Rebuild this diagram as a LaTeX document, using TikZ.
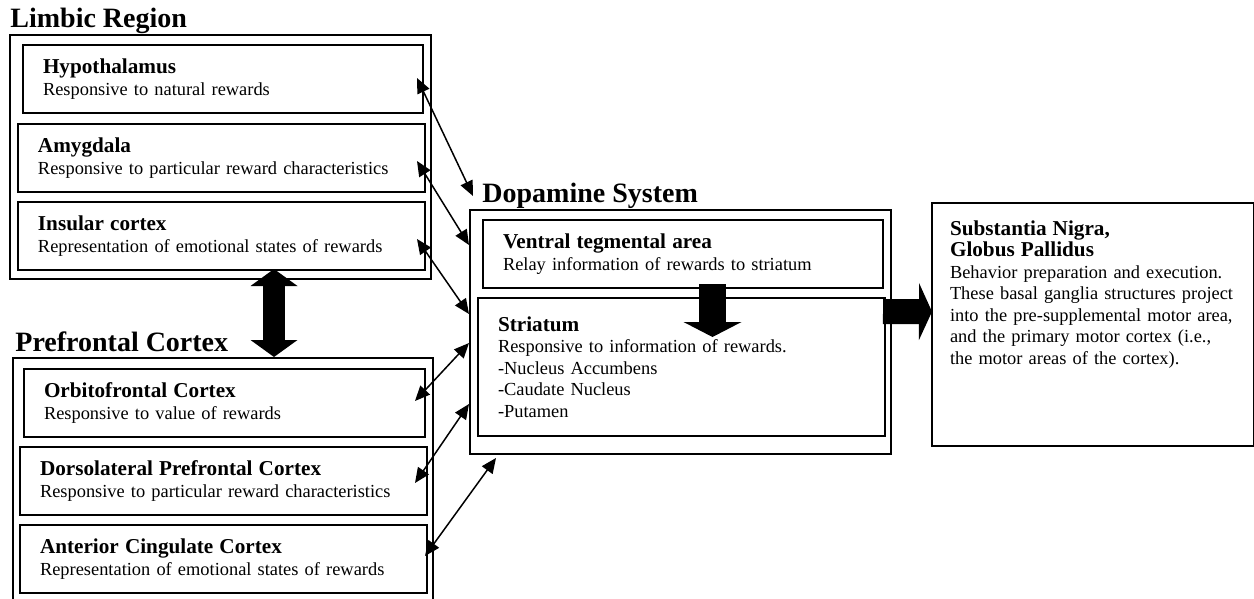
\documentclass[tikz,border=0pt]{standalone}
\usepackage{fontspec}
\setmainfont{Liberation Serif}
\usetikzlibrary{arrows.meta, positioning, calc}

\newcommand{\headfont}{\fontsize{10.6}{11}\selectfont\bfseries}
\newcommand{\titlefont}{\fontsize{14}{16}\selectfont\bfseries}

\begin{document}
\begin{tikzpicture}[
        x=0.5pt, y=-0.5pt,
        font=\fontsize{9.2}{10.75}\selectfont,
        group/.style={draw, line width=1pt, anchor=north west, inner sep=0pt},
        region/.style={draw, line width=1pt, anchor=north west, minimum width=#1, minimum height=34pt, text width=#1-20pt, align=left, inner xsep=10pt},
        heading/.style={anchor=base west, inner sep=0pt, font=\titlefont},
        link/.style={<->, >={Triangle[length=7.5pt, width=6.5pt]}, line width=0.75pt},
        bigarr/.style={line width=#1}
    ]
        \useasboundingbox (0,0) rectangle (1254,599);

        % outer groups
        \node[group, minimum width=210.5pt, minimum height=122pt] (limbic) at (9,34) {};
        \node[group, minimum width=210pt, minimum height=126.5pt] (pfc) at (12,357) {};
        \node[group, minimum width=210.5pt, minimum height=122pt] (dsys) at (469,209) {};

        \node[heading] (limbictitle) at (10,28) {Limbic Region};
        \node[heading] (pfctitle) at (15,351) {Prefrontal Cortex};
        \node[heading] (dsystitle) at (482,203) {Dopamine System};

        % limbic region
        \node[region=200pt] (hypo) at (22,44) {{\headfont Hypothalamus}\\Responsive to natural rewards};
        \node[region=203.5pt] (amyg) at (17,123) {{\headfont Amygdala}\\Responsive to particular reward characteristics};
        \node[region=203.5pt] (insula) at (17,201) {{\headfont Insular cortex}\\Representation of emotional states of rewards};

        % prefrontal cortex
        \node[region=200.5pt] (ofc) at (23,368) {{\headfont Orbitofrontal Cortex}\\Responsive to value of rewards};
        \node[region=203.5pt] (dlpfc) at (19,446) {{\headfont Dorsolateral Prefrontal Cortex}\\Responsive to particular reward characteristics};
        \node[region=203.5pt] (acc) at (19,524) {{\headfont Anterior Cingulate Cortex}\\Representation of emotional states of rewards};

        % dopamine system
        \node[region=200pt] (vta) at (482,219) {{\headfont Ventral tegmental area}\\Relay information of rewards to striatum};
        \node[region=203.5pt, minimum height=69pt] (striatum) at (477,297) {{\headfont Striatum}\\Responsive to information of rewards.\\-Nucleus Accumbens\\-Caudate Nucleus\\-Putamen};

        % output
        \node[draw, line width=1pt, anchor=north west, minimum width=161pt, text width=143pt, align=left,
              inner xsep=9pt, inner ysep=8.75pt, text depth=96.8pt] (output) at (931,202)
            {{\headfont Substantia Nigra,\\Globus Pallidus}\\Behavior preparation and execution.\\These basal ganglia structures project\\into the pre-supplemental motor area,\\and the primary motor cortex (i.e.,\\the motor areas of the cortex).};

        \draw[link] ($(hypo.east)+(-7,-1)$)   -- ($(dsys.north west)+(4,-13)$);
        \draw[link] ($(amyg.east)+(-9,3)$)    -- ($(vta.west)+(-13,-9)$);
        \draw[link] ($(insula.east)+(-9,3)$)  -- ($(striatum.west)+(-8,-53)$);
        \draw[link] ($(ofc.east)+(-11,-2)$)   -- ($(striatum.west)+(-8,-24)$);
        \draw[link] ($(dlpfc.east)+(-13,2)$)  -- ($(striatum.west)+(-8,37)$);
        \draw[link] ($(acc.east)+(-3,-3)$)    -- ($(dsys.south west)+(27,3)$);

        \draw[bigarr=11pt, {Triangle[length=8.5pt, width=23.5pt, line width=0pt]}-{Triangle[length=8.5pt, width=23.5pt, line width=0pt]}]
            ($(limbic.south)+(53.5,-11)$) -- ($(pfc.north)+(51,0)$);
        \draw[bigarr=13.5pt, -{Triangle[length=7.5pt, width=29pt, line width=0pt]}]
            ($(vta.south)+(29.5,-5)$) -- ($(striatum.north)+(31,40)$);
        \draw[bigarr=12.5pt, -{Triangle[length=6.5pt, width=28.5pt, line width=0pt]}]
            ($(dsys.east)+(-9,-20.5)$) -- ($(output.west)+(1,-13)$);
    \end{tikzpicture}
\end{document}
